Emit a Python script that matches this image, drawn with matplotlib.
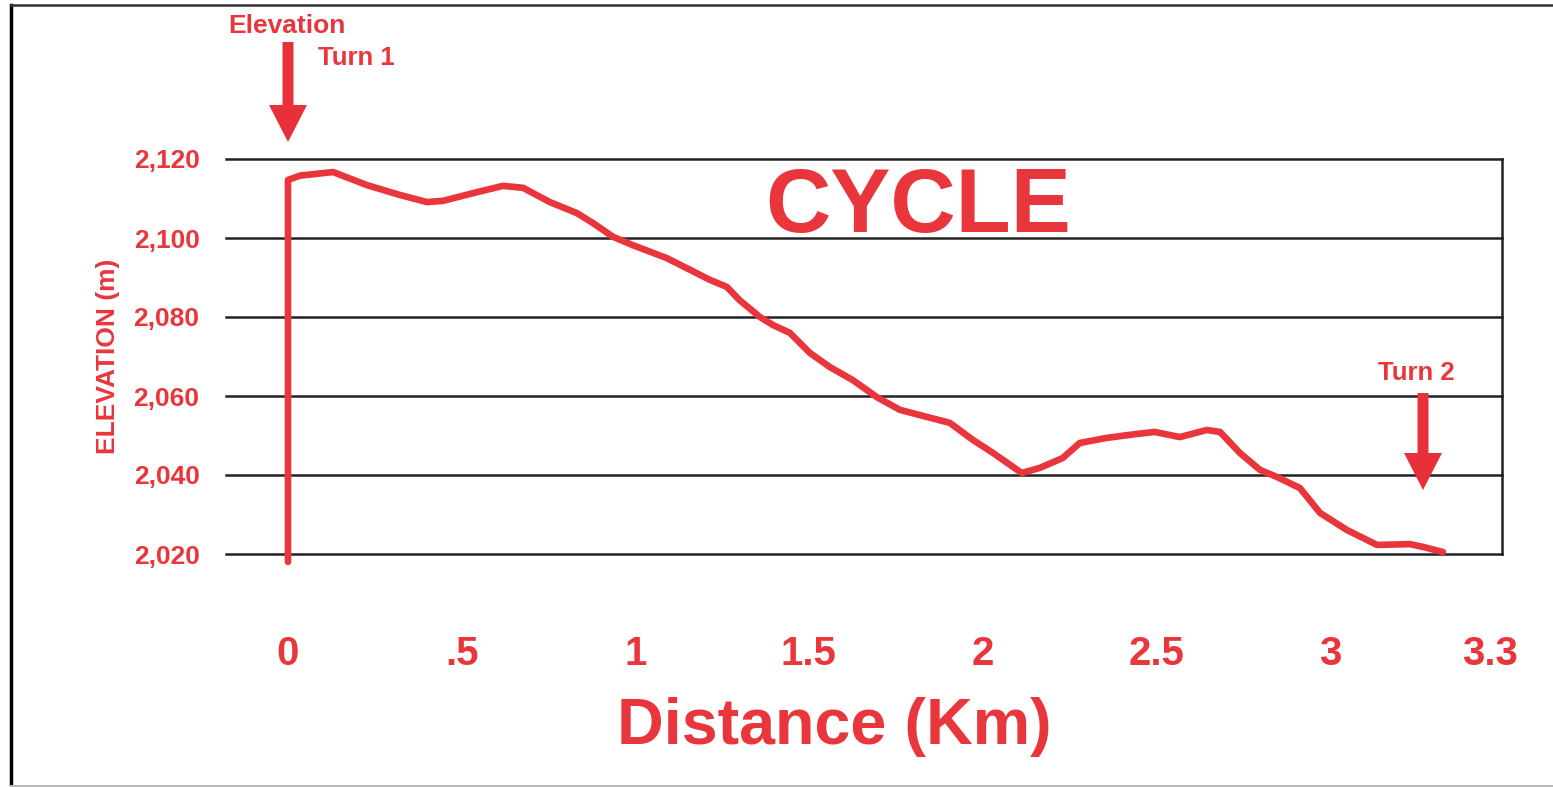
import matplotlib
matplotlib.use('Agg')
import matplotlib.pyplot as plt
from matplotlib.lines import Line2D
from matplotlib.patches import FancyArrow

plt.rcParams['font.family'] = ['Liberation Sans', 'DejaVu Sans']
plt.rcParams['font.weight'] = 'bold'

# distance (km) and elevation (m)
dist = [0, 0, 0.035, 0.13, 0.227, 0.322, 0.40, 0.446, 0.544, 0.619, 0.677,
        0.754, 0.832, 0.878, 0.936, 0.993, 1.091, 1.215, 1.264, 1.30, 1.359,
        1.396, 1.445, 1.503, 1.561, 1.627, 1.696, 1.762, 1.84, 1.906, 1.972,
        2.03, 2.113, 2.165, 2.231, 2.28, 2.358, 2.445, 2.496, 2.568, 2.646,
        2.684, 2.741, 2.799, 2.848, 2.914, 2.972, 3.049, 3.136, 3.231, 3.268,
        3.326]
elev = [2018, 2114.7, 2115.8, 2116.7, 2113.4, 2110.9, 2109.1, 2109.4, 2111.6,
        2113.2, 2112.7, 2109.1, 2106.3, 2103.8, 2100.3, 2098.2, 2094.9, 2089.4,
        2087.6, 2084.3, 2080.0, 2078, 2076, 2070.9, 2067.3, 2064, 2059.7,
        2056.5, 2054.7, 2053.2, 2048.9, 2045.6, 2040.5, 2041.8, 2044.3, 2048.1,
        2049.4, 2050.4, 2050.9, 2049.6, 2051.4, 2050.9, 2045.6, 2041.3, 2039.5,
        2036.7, 2030.4, 2026.1, 2022.3, 2022.5, 2021.8, 2020.5]

yticks = [2020, 2040, 2060, 2080, 2100, 2120]
ytick_labels = ['2,020', '2,040', '2,060', '2,080', '2,100', '2,120']
xticks = [0, 0.5, 1, 1.5, 2, 2.5, 3, 3.46]
xtick_labels = ['0', '.5', '1', '1.5', '2', '2.5', '3', '3.3']

red = '#e8363c'
W, H = 1553, 787

fig = plt.figure(figsize=(W / 100, H / 100), dpi=100)
ax = fig.add_axes([226 / W, 1 - 554 / H, (1502 - 226) / W, (554 - 159) / H])

ax.plot(dist, elev, color=red, lw=4.8, solid_capstyle='round',
        solid_joinstyle='round', clip_on=False, zorder=3)

ax.set_xlim(-0.1785, 3.496)
ax.set_ylim(2020, 2120)
ax.set_yticks(yticks)
ax.set_yticklabels(ytick_labels)
ax.set_xticks(xticks)
ax.set_xticklabels(xtick_labels)
ax.tick_params(axis='y', length=0, pad=19, labelsize=19, labelcolor=red)
ax.tick_params(axis='x', length=0, pad=58, labelsize=29, labelcolor=red)

for s in ['left', 'top', 'bottom']:
    ax.spines[s].set_visible(False)
ax.spines['right'].set_color('#222222')
ax.spines['right'].set_linewidth(1.8)

ax.yaxis.grid(True, color='#222222', lw=1.8)
for gl in ax.get_ygridlines():
    gl.set_clip_on(False)
ax.set_axisbelow(True)

ax.set_ylabel('ELEVATION (m)', color=red, fontsize=19, fontweight='bold')
ax.yaxis.set_label_coords((120 - 226) / (1502 - 226), (554 - 356) / (554 - 159))

fig.text(834 / W, 1 - 744 / H, 'Distance (Km)', color=red, fontsize=46.5,
         fontweight='bold', ha='center', va='baseline')
fig.text(918 / W, 1 - 232 / H, 'CYCLE', color=red, fontsize=65,
         fontweight='bold', ha='center', va='baseline')
fig.text(228 / W, 1 - 26 / H, 'Elevation', color=red, fontsize=19,
         fontweight='bold', ha='left', va='center')
fig.text(318 / W, 1 - 58 / H, 'Turn 1', color=red, fontsize=18.5,
         fontweight='bold', ha='left', va='center')
fig.text(1378 / W, 1 - 373 / H, 'Turn 2', color=red, fontsize=18.5,
         fontweight='bold', ha='left', va='center')

# turn arrows
for ax_px, top_px, tip_px in [(288, 42, 142), (1423, 393, 490)]:
    fig.patches.append(FancyArrow(ax_px / W, 1 - top_px / H, 0,
                                  -(tip_px - top_px) / H,
                                  width=11 / W, head_width=38 / W,
                                  head_length=37 / H,
                                  length_includes_head=True,
                                  color='#e8303a', lw=0,
                                  transform=fig.transFigure, figure=fig))

# outer frame
fig.add_artist(Line2D([11 / W, 11 / W], [1 - 786 / H, 1 - 5 / H],
                      color='black', lw=2.5, transform=fig.transFigure))
fig.add_artist(Line2D([11 / W, 1], [1 - 5 / H, 1 - 5 / H],
                      color='#333333', lw=1.8, transform=fig.transFigure))
fig.add_artist(Line2D([11 / W, 1], [1 - 786 / H, 1 - 786 / H],
                      color='#bbbbbb', lw=1.5, transform=fig.transFigure))

fig.savefig('out.png', dpi=100)
